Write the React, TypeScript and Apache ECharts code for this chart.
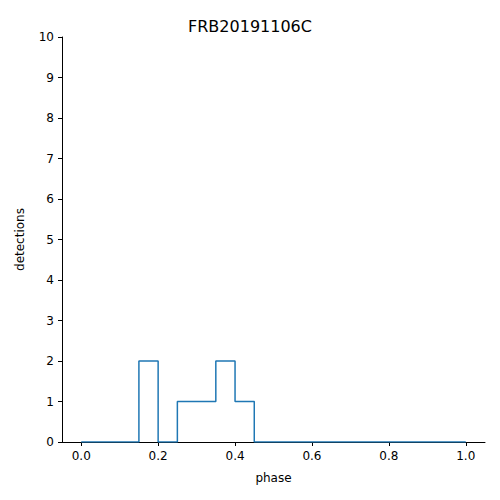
import React, { useEffect, useRef } from "react";
import * as echarts from "echarts";

const binEdges = [0, 0.05, 0.1, 0.15, 0.2, 0.25, 0.3, 0.35, 0.4, 0.45, 0.5, 0.55, 0.6, 0.65, 0.7, 0.75, 0.8, 0.85, 0.9, 0.95, 1.0];
const counts = [0, 0, 0, 2, 0, 1, 1, 2, 1, 0, 0, 0, 0, 0, 0, 0, 0, 0, 0, 0];
const xTicks = [0, 0.2, 0.4, 0.6, 0.8, 1.0];

export default function App() {
  const ref = useRef<HTMLDivElement>(null);
  useEffect(() => {
    const chart = echarts.init(ref.current!, null, { renderer: "svg" });
    const data: number[][] = counts.map((c, i) => [binEdges[i], c]);
    data.push([binEdges[binEdges.length - 1], counts[counts.length - 1]]);
    const font = "DejaVu Sans";
    chart.setOption({
      animation: false,
      textStyle: { fontFamily: font },
      title: { text: "FRB20191106C", left: "center", top: 13, textStyle: { fontSize: 16, fontWeight: "normal", color: "#000", fontFamily: font } },
      grid: { left: 62, right: 15, top: 37, bottom: 58 },
      xAxis: {
        type: "value", min: -0.05, max: 1.05,
        name: "phase", nameLocation: "middle", nameGap: 30,
        nameTextStyle: { color: "#000", fontSize: 12, fontFamily: font },
        axisLine: { onZero: false, lineStyle: { color: "#000" } },
        axisTick: { show: true, length: 4, inside: false, customValues: xTicks, lineStyle: { color: "#000" } },
        axisLabel: { color: "#000", fontSize: 12, customValues: xTicks, formatter: (v: number) => v.toFixed(1) },
        splitLine: { show: false },
      },
      yAxis: {
        type: "value", min: 0, max: 10, interval: 1,
        name: "detections", nameLocation: "middle", nameGap: 36,
        nameTextStyle: { color: "#000", fontSize: 12, fontFamily: font },
        axisLine: { show: true, onZero: false, lineStyle: { color: "#000" } },
        axisTick: { show: true, length: 4, lineStyle: { color: "#000" } },
        axisLabel: { color: "#000", fontSize: 12 },
        splitLine: { show: false },
      },
      series: [{
        type: "line", step: "end", data, symbol: "none",
        lineStyle: { color: "#1f77b4", width: 1.5 },
      }],
    });
    return () => chart.dispose();
  }, []);
  return <div ref={ref} style={{ width: 500, height: 500, position: "absolute", left: 0, top: 0 }} />;
}
